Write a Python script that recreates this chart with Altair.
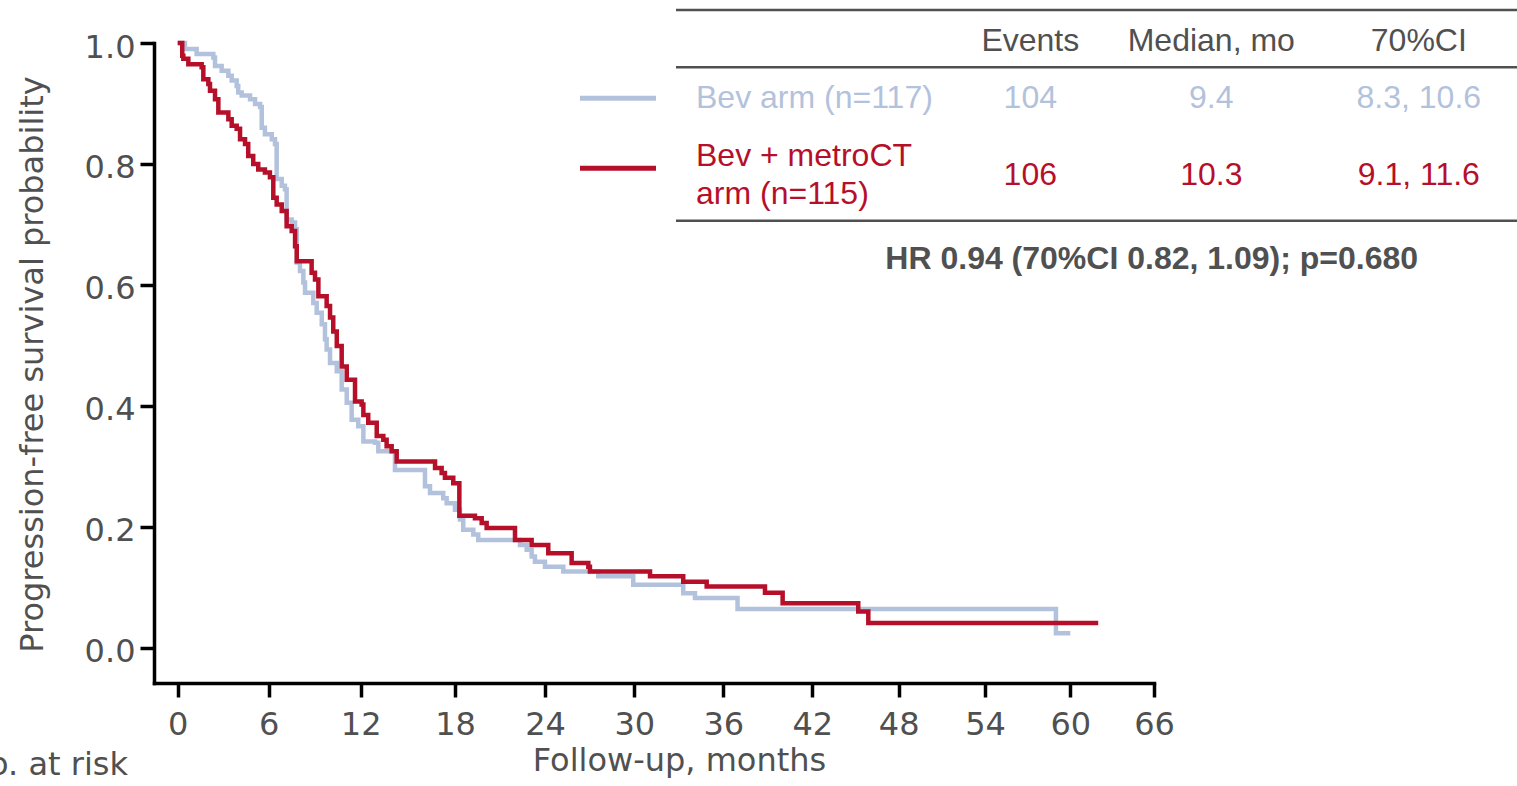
import altair as alt
import pandas as pd

# ---------------- data ----------------
bev_t = [0, 0.48, 1.25, 2.35, 2.46, 2.90, 3.34, 3.56, 3.89, 3.99, 4.22, 4.77, 5.10, 5.43, 5.54,
         5.75, 6.20, 6.41, 6.52, 6.85, 7.06, 7.17, 7.50, 7.72, 7.83, 8.04, 8.26, 8.37, 8.91, 9.13,
         9.46, 9.67, 9.78, 10.00, 10.44, 10.76, 11.09, 11.41, 11.84, 12.17, 12.91, 13.12, 14.18,
         16.09, 16.41, 17.25, 17.47, 18.0, 18.33, 18.55, 19.22, 19.55, 22.33, 22.78, 23.11, 23.33,
         24.0, 25.23, 27.58, 29.93, 33.30, 34.09, 36.96, 58.99, 60.0]
bev_s = [1.0, 0.990, 0.982, 0.976, 0.962, 0.954, 0.946, 0.938, 0.929, 0.918, 0.913, 0.907, 0.899,
         0.894, 0.860, 0.849, 0.841, 0.833, 0.775, 0.764, 0.758, 0.708, 0.703, 0.692, 0.637, 0.623,
         0.604, 0.587, 0.570, 0.554, 0.535, 0.510, 0.493, 0.471, 0.457, 0.427, 0.405, 0.377, 0.366,
         0.341, 0.339, 0.325, 0.294, 0.267, 0.256, 0.247, 0.239, 0.228, 0.212, 0.195, 0.187, 0.178,
         0.170, 0.162, 0.151, 0.142, 0.134, 0.126, 0.118, 0.104, 0.090, 0.082, 0.064, 0.024, 0.024]

met_t = [0, 0.30, 0.37, 0.70, 1.58, 1.69, 2.02, 2.13, 2.46, 2.68, 3.34, 3.56, 3.89, 4.11, 4.44,
         4.65, 4.98, 5.31, 5.75, 6.08, 6.30, 6.52, 6.85, 7.17, 7.50, 7.72, 7.83, 8.80, 9.02, 9.24,
         9.78, 10.00, 10.21, 10.44, 10.76, 11.09, 11.63, 12.06, 12.17, 12.48, 13.02, 13.44, 13.65,
         13.97, 14.29, 16.73, 17.15, 17.36, 17.89, 18.29, 19.33, 19.78, 20.11, 22.0, 23.11, 24.22,
         25.79, 26.91, 27.02, 31.06, 33.30, 34.88, 38.81, 40.0, 45.19, 45.89, 62.0]
met_s = [1.0, 0.979, 0.974, 0.965, 0.960, 0.940, 0.932, 0.921, 0.907, 0.885, 0.874, 0.863, 0.858,
         0.841, 0.833, 0.813, 0.800, 0.791, 0.786, 0.778, 0.744, 0.733, 0.722, 0.697, 0.689, 0.664,
         0.639, 0.620, 0.609, 0.581, 0.565, 0.546, 0.523, 0.499, 0.465, 0.443, 0.407, 0.402, 0.385,
         0.372, 0.350, 0.344, 0.333, 0.325, 0.308, 0.297, 0.289, 0.281, 0.272, 0.218, 0.214, 0.206,
         0.198, 0.178, 0.170, 0.156, 0.140, 0.134, 0.126, 0.118, 0.109, 0.101, 0.091, 0.0735, 0.060,
         0.041, 0.041]

x_ticks = [0, 6, 12, 18, 24, 30, 36, 42, 48, 54, 60, 66]
y_ticks = [0.0, 0.2, 0.4, 0.6, 0.8, 1.0]

header = ["Events", "Median, mo", "70%CI"]
arm_bev = ["Bev arm (n=117)"]
arm_met = ["Bev + metroCT", "arm (n=115)"]
events = ["104", "106"]
medians = ["9.4", "10.3"]
cis = ["8.3, 10.6", "9.1, 11.6"]
hr_text = "HR 0.94 (70%CI 0.82, 1.09); p=0.680"
risk_label = "No. at risk"

# ---------------- styling ----------------
BLUE = "#b3c2dc"
RED = "#b60f2a"
GRAY = "#505050"
AX_FONT = "DejaVu Sans"
TB_FONT = "Liberation Sans"

# x scale follows the reference's tick placement (piecewise linear)
x_domain = [-1.56] + x_ticks
x_range = [0, 23.7, 114.7, 206.7, 301, 391, 480.3, 569.3, 658.3, 744.7, 831, 916.3, 1000]

xscale = alt.Scale(domain=x_domain, range=x_range, nice=False, zero=False)
yscale = alt.Scale(domain=[-0.0584, 1.0], nice=False, zero=False)

xaxis = alt.Axis(values=x_ticks, format="d", title="Follow-up, months",
                 titleX=525, titleY=87, titleBaseline="alphabetic", titleAlign="center",
                 labelPadding=12, labelFlush=False, labelOverlap=False)
yaxis = alt.Axis(values=y_ticks, format=".1f", title="Progression-free survival probability",
                 titleX=-112, titleY=321, titleAngle=270, titleBaseline="alphabetic",
                 titleAlign="center", labelPadding=5, labelOffset=4, labelFlush=False,
                 labelOverlap=False)

df_bev = pd.DataFrame({"t": bev_t, "s": bev_s})
df_met = pd.DataFrame({"t": met_t, "s": met_s})

bev_line = alt.Chart(df_bev).mark_line(interpolate="step-after", color=BLUE, strokeWidth=4.5).encode(
    x=alt.X("t:Q", scale=xscale, axis=xaxis),
    y=alt.Y("s:Q", scale=yscale, axis=yaxis),
)
met_line = alt.Chart(df_met).mark_line(interpolate="step-after", color=RED, strokeWidth=4.5).encode(
    x=alt.X("t:Q", scale=xscale, axis=xaxis),
    y=alt.Y("s:Q", scale=yscale, axis=yaxis),
)

one = pd.DataFrame({"k": [0]})


def txt(text, x, y, color, align="center", size=32, weight="normal", font=TB_FONT,
        baseline="middle"):
    return alt.Chart(one).mark_text(align=align, baseline=baseline, font=font, fontSize=size,
                                    fontWeight=weight, color=color).encode(
        x=alt.value(x), y=alt.value(y), text=alt.value(text))


def hrule(x1, x2, y, color, width):
    return alt.Chart(one).mark_rule(color=color, strokeWidth=width).encode(
        x=alt.value(x1), x2=alt.value(x2), y=alt.value(y))


col_x = [876.3, 1057.3, 1264.8]
layers = [bev_line, met_line]

# table rules
for yy in [-33, 24.3, 177.7]:
    layers.append(hrule(522, 1363, yy, GRAY, 2.5))
# header
for h, cx in zip(header, col_x):
    layers.append(txt(h, cx, -2, GRAY))
# legend lines
layers.append(hrule(426, 502, 55.3, BLUE, 5))
layers.append(hrule(426, 502, 125.3, RED, 5))
# row labels
layers.append(txt(arm_bev[0], 542, 55, BLUE, align="left"))
layers.append(txt(arm_met[0], 542, 113.3, RED, align="left"))
layers.append(txt(arm_met[1], 542, 151.3, RED, align="left"))
# row values
for vals, cx in zip([events, medians, cis], col_x):
    layers.append(txt(vals[0], cx, 55, BLUE))
    layers.append(txt(vals[1], cx, 132.3, RED))
# HR line
layers.append(txt(hr_text, 997.7, 216.3, GRAY, weight="bold"))
# No. at risk (cut at the left edge, as in the reference)
layers.append(txt(risk_label, -26, 732, GRAY, align="right", size=32, font=AX_FONT,
                  baseline="alphabetic"))

chart = alt.layer(*layers).properties(
    width=1000, height=640,
    autosize=alt.AutoSizeParams(type="none"),
    padding={"left": 154, "top": 43, "right": 363, "bottom": 103},
).configure_view(stroke=None).configure_axis(
    grid=False, domainColor="black", domainWidth=3.5, domainCap="square",
    tickColor="black", tickWidth=3.5, tickSize=14,
    labelFont=AX_FONT, labelFontSize=32, labelColor=GRAY,
    titleFont=AX_FONT, titleFontSize=32, titleColor=GRAY, titleFontWeight="normal",
)

chart.save("out.html", embed_options={"renderer": "svg", "actions": False})
